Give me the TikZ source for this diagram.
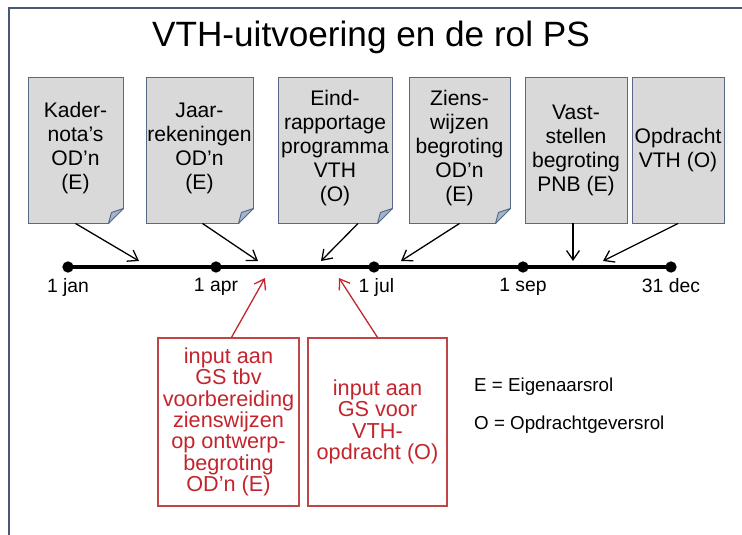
\documentclass[tikz,border=0pt]{standalone}
\usepackage{fontspec}
\setmainfont{Liberation Sans}
\usetikzlibrary{arrows.meta,calc}

\definecolor{docgray}{RGB}{217,217,217}
\definecolor{docline}{RGB}{84,106,136}
\definecolor{docfold}{RGB}{165,180,204}
\definecolor{framecol}{RGB}{70,90,115}
\definecolor{psred}{RGB}{196,36,44}
\definecolor{psredline}{RGB}{190,70,70}

\begin{document}
\begin{tikzpicture}[x=0.03cm, y=-0.03cm,
    doc/.style={draw=docline, fill=docgray, line width=0.8pt, minimum height=4.38cm,
      inner sep=1pt, align=center, font=\fontsize{18}{20.5}\selectfont},
    inbox/.style={draw=psredline, line width=1pt, minimum height=5.04cm, inner sep=1pt,
      align=center, text=psred, font=\fontsize{18.5}{18.2}\selectfont},
    dag/.style={circle, fill=black, inner sep=0pt, minimum size=0.34cm},
    datum/.style={below=1pt, font=\fontsize{16.5}{18}\selectfont},
    pijl/.style={-{Straight Barb[length=8pt,width=11pt]}, line width=1.1pt},
    rodepijl/.style={pijl, draw=psred}]
  \useasboundingbox (0,0) rectangle (742,535);
  \draw[framecol, line width=1.6pt] (9,535) -- (9,8) -- (742,8);

  \node[font=\fontsize{30}{36}\selectfont] (titel) at (371,37) {VTH-uitvoering en de rol PS};

  % documenten
  \node[doc, minimum width=2.85cm] (kader) at (75.5,150) {Kader-\\nota’s\\OD’n\\(E)\\[-14pt]\mbox{}};
  \node[doc, minimum width=3.21cm] (jaar) at (199.5,150) {Jaar-\\rekeningen\\OD’n\\(E)\\[-14pt]\mbox{}};
  \node[doc, minimum width=3.42cm] (eind) at (335,150) {Eind-\\rapportage\\programma\\VTH\\(O)\\[-14pt]\mbox{}};
  \node[doc, minimum width=3.03cm] (ziens) at (459.5,150) {Ziens-\\wijzen\\begroting\\OD’n\\(E)\\[-14pt]\mbox{}};
  \node[doc, minimum width=3.06cm] (vast) at (576,150) {Vast-\\stellen\\begroting\\PNB (E)};
  \node[doc, minimum width=2.76cm] (opdr) at (678,150) {Opdracht\\VTH (O)};

  % ezelsoren
  \foreach \n in {kader,jaar,eind,ziens} {
    \fill[white] ($(\n.south east)+(-15,1)$) -- ($(\n.south east)+(1,1)$) -- ($(\n.south east)+(1,-15)$) -- cycle;
    \filldraw[draw=docline, fill=docfold, line width=0.8pt, line join=round]
      ($(\n.south east)+(-15,0)$) -- ($(\n.south east)+(-12,-11)$) -- ($(\n.south east)+(0,-15)$) -- cycle;
  }

  % tijdlijn
  \node[dag] (jan) at (68,267) {};
  \node[dag] (apr) at (216,267) {};
  \node[dag] (jul) at (374,267) {};
  \node[dag] (sep) at (523,267) {};
  \node[dag] (dec) at (671,267) {};
  \draw[line width=3.4pt] (jan.center) -- (dec.center);
  \node[datum] (ljan) at (jan.south) {1 jan};
  \node[datum] (lapr) at (apr.south) {1 apr};
  \node[datum] (ljul) at ([xshift=2pt]jul.south) {1 jul};
  \node[datum] (lsep) at (sep.south) {1 sep};
  \node[datum] (ldec) at (dec.south) {31 dec};

  \coordinate (p1) at (139,261);
  \coordinate (p2) at (258,261);
  \coordinate (p3) at (321,261);
  \coordinate (p4) at (401,261);
  \coordinate (p5) at (573,261);
  \coordinate (p6) at (603,261);
  \draw[pijl] (kader.south) -- (p1);
  \draw[pijl] ($(jaar.south)+(3,0)$) -- (p2);
  \draw[pijl] ($(eind.south)+(23,0)$) -- (p3);
  \draw[pijl] (ziens.south) -- (p4);
  \draw[pijl] ($(vast.south)+(-3,0)$) -- (p5);
  \draw[pijl] (opdr.south) -- (p6);

  % input aan GS
  \node[inbox, minimum width=4.23cm] (input1) at (228.5,422)
    {input aan\\GS tbv\\voorbereiding\\zienswijzen\\op ontwerp-\\begroting\\OD’n (E)};
  \node[inbox, minimum width=4.17cm] (input2) at (377.5,422)
    {input aan\\GS voor\\VTH-\\opdracht (O)};
  \coordinate (r1) at (265,278);
  \coordinate (r2) at (339,278);
  \draw[rodepijl] ($(input1.north)+(3,0)$) -- (r1);
  \draw[rodepijl] (input2.north) -- (r2);

  % legenda
  \node[anchor=west, inner sep=0pt, font=\fontsize{16}{18}\selectfont] (leg1) at (474,387) {E = Eigenaarsrol};
  \node[anchor=west, inner sep=0pt, font=\fontsize{16}{18}\selectfont] (leg2) at (474,425) {O = Opdrachtgeversrol};
\end{tikzpicture}
\end{document}
